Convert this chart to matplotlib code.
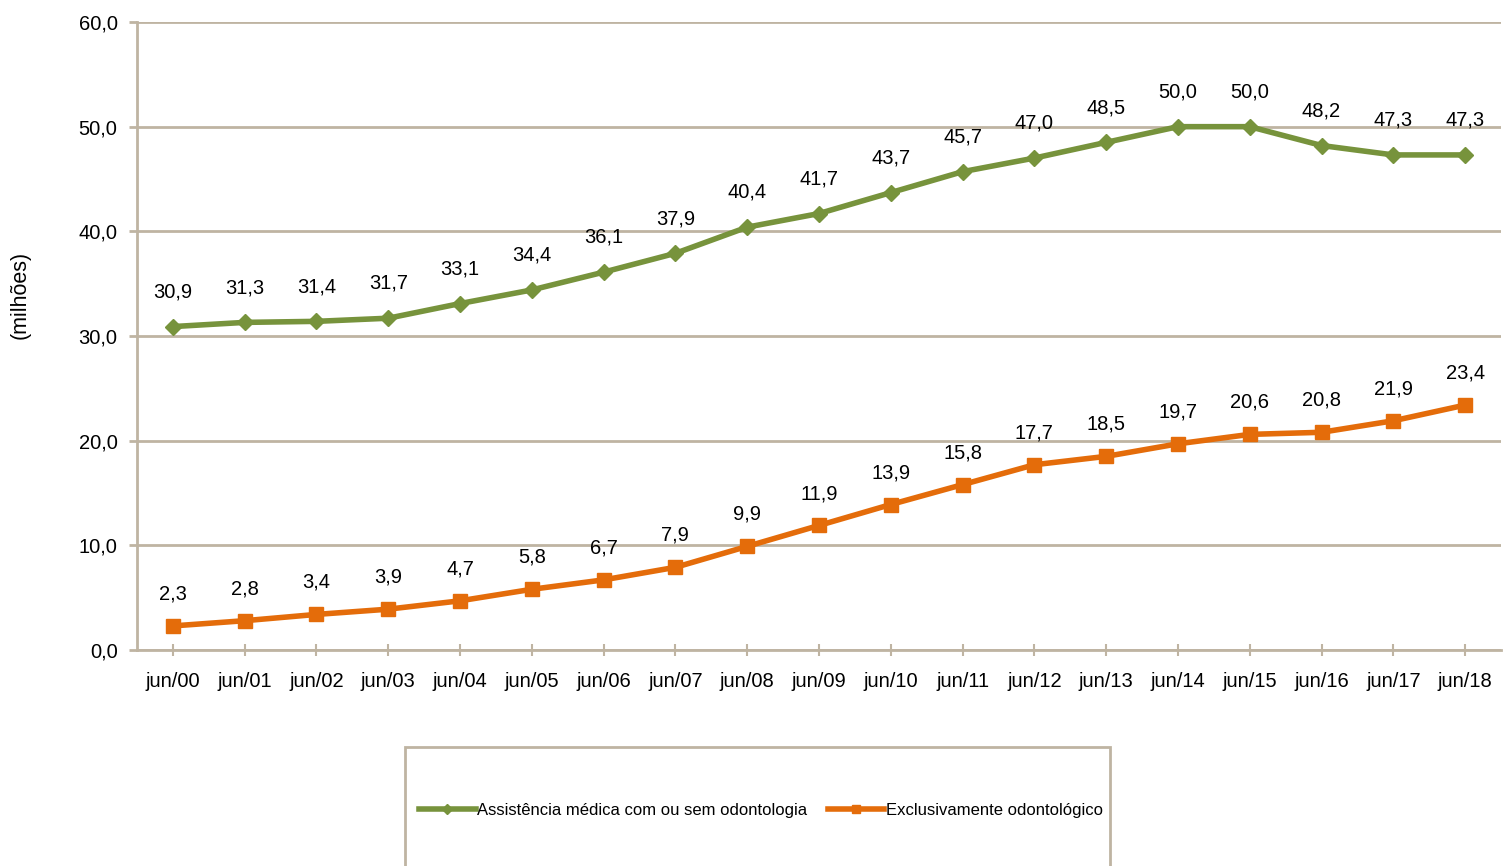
import matplotlib
matplotlib.use("Agg")
import matplotlib.pyplot as plt
from matplotlib.patches import Rectangle

categories = ["jun/00", "jun/01", "jun/02", "jun/03", "jun/04", "jun/05", "jun/06", "jun/07",
              "jun/08", "jun/09", "jun/10", "jun/11", "jun/12", "jun/13", "jun/14", "jun/15",
              "jun/16", "jun/17", "jun/18"]
medica = [30.9, 31.3, 31.4, 31.7, 33.1, 34.4, 36.1, 37.9, 40.4, 41.7, 43.7, 45.7, 47.0, 48.5,
          50.0, 50.0, 48.2, 47.3, 47.3]
odonto = [2.3, 2.8, 3.4, 3.9, 4.7, 5.8, 6.7, 7.9, 9.9, 11.9, 13.9, 15.8, 17.7, 18.5, 19.7,
          20.6, 20.8, 21.9, 23.4]
yticks = [0, 10, 20, 30, 40, 50, 60]

plt.rcParams['font.family'] = ['Liberation Sans', 'DejaVu Sans']

green = "#77933C"
orange = "#E46C0A"
grid = "#BFB4A2"

fig = plt.figure(figsize=(15.06, 8.66), dpi=100)
ax = fig.add_axes([137/1506, 1-650/866, (1501-137)/1506, (650-22)/866])
x = list(range(len(categories)))

l1, = ax.plot(x, medica, color=green, lw=4, marker="D", ms=8, mfc=green, mec=green,
              label="Assistência médica com ou sem odontologia", zorder=3)
l2, = ax.plot(x, odonto, color=orange, lw=4, marker="s", ms=10, mfc=orange, mec=orange,
              label="Exclusivamente odontológico", zorder=3)

def fmt(v):
    return f"{v:.1f}".replace(".", ",")

for xi, v in zip(x, medica):
    ax.annotate(fmt(v), (xi, v), xytext=(0, 25), textcoords="offset points",
                ha="center", va="center", fontsize=14.5)
for xi, v in zip(x, odonto):
    ax.annotate(fmt(v), (xi, v), xytext=(0, 23), textcoords="offset points",
                ha="center", va="center", fontsize=14.5)

ax.set_xlim(-0.5, len(categories) - 0.5)
ax.set_ylim(0, 60)
ax.set_yticks(yticks)
ax.set_yticklabels([fmt(v) for v in yticks], fontsize=14.5)
ax.set_xticks(x)
ax.set_xticklabels(categories, fontsize=14.5)
ax.yaxis.grid(True, color=grid, lw=2)
ax.set_axisbelow(True)
for s in ["top", "right"]:
    ax.spines[s].set_visible(False)
for s in ["left", "bottom"]:
    ax.spines[s].set_color(grid)
    ax.spines[s].set_linewidth(2)
ax.tick_params(axis="y", length=6, width=2, color=grid, pad=8)
ax.tick_params(axis="x", length=8, width=1.5, color=grid, direction="inout", pad=12)
fig.text(20/1506, 1-295/866, "(milhões)", rotation=90, ha="center", va="center", fontsize=15.5)

# legend box
fig.patches.append(Rectangle((405/1506, -0.05), (1110-405)/1506, 1-747/866+0.05,
                             transform=fig.transFigure, fill=False, edgecolor=grid, lw=2))
leg = fig.legend(handles=[l1, l2], loc="center", bbox_to_anchor=(761/1506, 1-810/866),
                 ncol=2, frameon=False, fontsize=12, handlelength=3.4, handletextpad=0.1,
                 columnspacing=1.2, markerscale=0.6)

fig.savefig("out.png", dpi=100)
